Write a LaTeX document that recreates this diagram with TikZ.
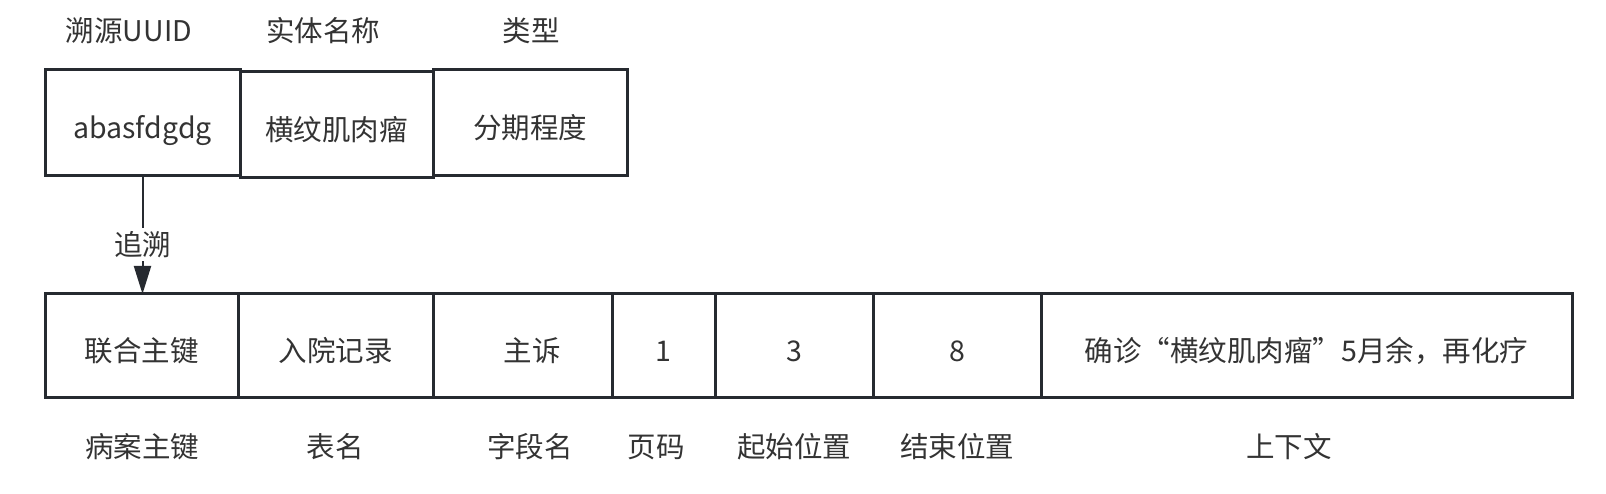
\documentclass[tikz,border=0pt]{standalone}
\usepackage{fontspec}
\setmainfont{Noto Sans CJK SC}
\usetikzlibrary{positioning, arrows.meta}
\definecolor{linegray}{RGB}{38,42,48}
\definecolor{textgray}{RGB}{51,51,51}

\begin{document}
\begin{tikzpicture}[x=1pt, y=-1pt, font=\fontsize{28.5}{34}\selectfont,
    cell/.style={draw=linegray, line width=3pt, inner sep=0pt, outer sep=0pt,
        anchor=north west, text=textgray, text height=35pt, text depth=4pt},
    toprow/.style={cell, minimum height=106pt},
    botrow/.style={cell, minimum height=103pt},
    caption/.style={text=textgray, inner sep=0pt},
    link/.style={draw=linegray, line width=2pt, -{Triangle[length=28pt, width=17pt]}}]

    \useasboundingbox (0,0) rectangle (1606,494);

    % ===== Top row: entity record =====
    \node[toprow, minimum width=195pt] (uuid) at (45,70) {abasfdgdg};
    \node[toprow, minimum width=193pt] (entity) at ([yshift=-2pt]uuid.north east) {横纹肌肉瘤};
    \node[toprow, minimum width=194pt] (etype) at (uuid.north east -| entity.north east) {分期程度};

    \node[caption] (uuidcap) at (129,31) {溯源UUID};
    \node[caption] (entitycap) at (323,31) {实体名称};
    \node[caption] (etypecap) at (531,31) {类型};

    % ===== Bottom row: source record =====
    \node[botrow, minimum width=193pt] (pk) at (45,294) {联合主键};
    \node[botrow, minimum width=195pt] (tbl) at (pk.north east) {入院记录};
    \node[botrow, minimum width=179pt] (field) at (tbl.north east) {\hspace*{19pt}主诉};
    \node[botrow, minimum width=103pt] (page) at (field.north east) {1};
    \node[botrow, minimum width=158pt] (start) at (page.north east) {3};
    \node[botrow, minimum width=168pt] (stop) at (start.north east) {8};
    \node[botrow, minimum width=531pt] (context) at (stop.north east) {确诊“横纹肌肉瘤”5月余，再化疗};

    \node[caption] (pkcap) at (142,447) {病案主键};
    \node[caption] (tblcap) at (335,447) {表名};
    \node[caption] (fieldcap) at (530,447) {字段名};
    \node[caption] (pagecap) at (656,447) {页码};
    \node[caption] (startcap) at (794,447) {起始位置};
    \node[caption] (stopcap) at (957,447) {结束位置};
    \node[caption] (contextcap) at (1289,447) {上下文};

    % ===== Trace link =====
    \draw[link] (uuid.south) -- node[pos=0.58, fill=white, caption, inner sep=3pt] (tracecap) {追溯} (uuid.south |- pk.north);

\end{tikzpicture}
\end{document}
